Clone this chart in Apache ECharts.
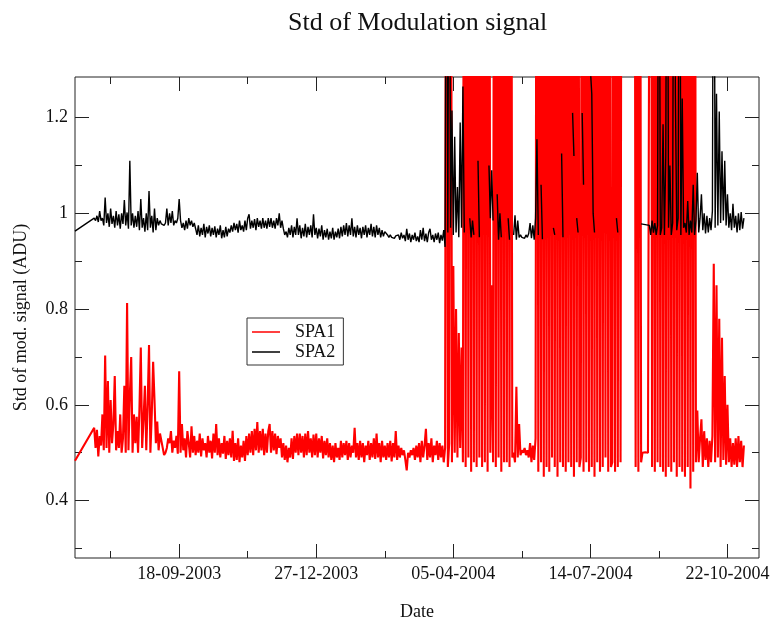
<!DOCTYPE html>
<html>
<head>
<meta charset="utf-8">
<title>Std of Modulation signal</title>
<script src="https://cdn.jsdelivr.net/npm/echarts@6/dist/echarts.min.js"></script>
<style>
  html, body { margin: 0; padding: 0; background: #fff; }
  #chart { width: 771px; height: 619px; }
</style>
</head>
<body>
<div id="chart"></div>
<script>
// x values are days counted from 18-09-2003
const LEAD_DAY = -76;     // first sample, joined by a straight line to the daily data
const START_DAY = -62;    // day of the first entry in the daily arrays

const xMajor = [0, 100, 200, 300, 400];
const xMinor = [-50, 50, 150, 250, 350];
const xLabels = ['18-09-2003', '27-12-2003', '05-04-2004', '14-07-2004', '22-10-2004'];
const yMajor = [0.4, 0.6, 0.8, 1.0, 1.2];
const yMinor = [0.3, 0.5, 0.7, 0.9, 1.1];

const spa1Lead = 0.483;
const spa2Lead = 0.963;

// SPA1, one value per day from day -62 to day 412 (null = no data, 2.6 = off the top)
const spa1 = [
  0.552, 0.51, 0.548, 0.492, 0.535, 0.515, 0.58, 0.505, 0.703, 0.51,   // -62
  0.65, 0.50, 0.61, 0.52, 0.56, 0.66, 0.505, 0.545, 0.51, 0.58,        // -52
  0.50, 0.53, 0.64, 0.50, 0.813, 0.505, 0.62, 0.70, 0.50, 0.58,        // -42
  0.52, 0.575, 0.50, 0.59, 0.72, 0.51, 0.57, 0.64, 0.505, 0.60,        // -32
  0.725, 0.50, 0.58, 0.69, 0.61, 0.52, 0.565, 0.505, 0.54, 0.525,      // -22
  0.51, 0.495, 0.50, 0.51, 0.53, 0.52, 0.545, 0.50, 0.525, 0.51,       // -12
  0.535, 0.498, 0.67, 0.50, 0.56, 0.505, 0.53, 0.49, 0.545, 0.52,      // -2
  0.49, 0.555, 0.50, 0.535, 0.495, 0.525, 0.50, 0.54, 0.492, 0.53,     // 8
  0.505, 0.52, 0.49, 0.535, 0.50, 0.525, 0.488, 0.54, 0.50, 0.56,      // 18
  0.495, 0.53, 0.49, 0.52, 0.498, 0.535, 0.487, 0.525, 0.495, 0.53,    // 28
  0.49, 0.546, 0.483, 0.52, 0.485, 0.53, 0.48, 0.515, 0.49, 0.525,     // 38
  0.483, 0.535, 0.495, 0.54, 0.50, 0.545, 0.495, 0.55, 0.505, 0.564,   // 48
  0.50, 0.545, 0.505, 0.55, 0.495, 0.54, 0.50, 0.545, 0.56, 0.50,      // 58
  0.545, 0.505, 0.54, 0.497, 0.535, 0.51, 0.53, 0.49, 0.52, 0.485,     // 68
  0.515, 0.48, 0.51, 0.49, 0.53, 0.487, 0.535, 0.50, 0.54, 0.495,      // 78
  0.54, 0.50, 0.535, 0.49, 0.54, 0.495, 0.545, 0.50, 0.53, 0.49,       // 88
  0.538, 0.495, 0.54, 0.49, 0.53, 0.50, 0.535, 0.488, 0.525, 0.495,    // 98
  0.53, 0.49, 0.52, 0.485, 0.515, 0.48, 0.52, 0.49, 0.51, 0.485,       // 108
  0.525, 0.49, 0.52, 0.495, 0.525, 0.485, 0.52, 0.49, 0.515, 0.50,     // 118
  0.552, 0.49, 0.52, 0.485, 0.525, 0.49, 0.52, 0.48, 0.515, 0.495,     // 128
  0.525, 0.485, 0.52, 0.49, 0.53, 0.487, 0.54, 0.49, 0.52, 0.48,       // 138
  0.525, 0.49, 0.515, 0.485, 0.52, 0.49, 0.525, 0.482, 0.52, 0.49,     // 148
  0.545, 0.485, 0.515, 0.49, 0.51, 0.495, 0.505, 0.485, 0.463, 0.50,   // 158
  0.49, 0.505, 0.495, 0.51, 0.485, 0.515, 0.49, 0.52, 0.48, 0.525,     // 168
  0.49, 0.515, 0.55, 0.485, 0.52, 0.49, 0.53, 0.48, 0.515, 0.495,      // 178
  0.525, 0.485, 0.52, 0.49, 0.515, 0.48, 0.51, 2.6, 0.47, 0.52,        // 188
  2.6, 0.48, 0.89, 0.50, 0.80, 0.49, 0.75, 0.51, 0.72, 0.48,           // 198
  2.6, 0.47, 2.6, 0.49, 2.6, 0.46, 2.6, 0.48, 2.6, 0.47,               // 208
  2.6, 0.49, 2.6, 0.47, 2.6, 0.48, 2.6, 0.46, 2.6, 0.50,               // 218
  0.85, 0.48, 2.6, 0.47, 2.6, 0.49, 2.6, 0.46, 2.6, 0.48,              // 228
  2.6, 0.48, 2.6, 0.47, 2.6, 0.49, 0.50, 0.48, 0.638, 0.49,            // 238
  0.56, 0.495, 0.505, 0.50, 0.51, 0.495, 0.505, 0.49, 0.52, 0.48,      // 248
  0.515, 0.485, 0.53, 2.6, 0.46, 2.6, 0.48, 2.6, 0.45, 2.6,            // 258
  0.47, 2.6, 0.46, 2.6, 0.49, 2.6, 0.47, 2.6, 0.45, 2.6,               // 268
  0.48, 2.6, 0.47, 2.6, 0.46, 2.6, 0.48, 2.6, 0.47, 2.6,               // 278
  0.45, 2.6, 0.48, 2.6, 0.47, 0.49, 2.6, 0.46, 2.6, 0.48,              // 288
  2.6, 0.46, 2.6, 0.47, 2.6, 0.45, 2.6, 0.48, 2.6, 0.46,               // 298
  2.6, 0.47, 2.6, 0.49, 2.6, 0.46, 2.6, 0.47, 0.48, 2.6,               // 308
  0.46, 2.6, 0.47, 2.6, 0.48, 2.6, null, null, null, null,             // 318
  null, null, null, null, 2.6, 0.47, 2.6, 0.46, 2.6, 0.48,             // 328
  0.50, 0.50, 0.501, 0.50, 0.50, 0.50, 2.6, 0.47, 2.6, 0.46,           // 338
  2.6, 0.48, 2.6, 0.47, 2.6, 0.46, 2.6, 0.45, 2.6, 0.47,               // 348
  2.6, 0.46, 2.6, 0.48, 2.6, 0.45, 2.6, 0.47, 2.6, 0.46,               // 358
  2.6, 0.45, 2.6, 0.47, 2.6, 0.425, 2.6, 0.46, 2.6, 0.48,              // 368
  0.588, 0.48, 0.53, 0.57, 0.47, 0.545, 0.485, 0.53, 0.47, 0.525,      // 378
  0.48, 0.535, 0.895, 0.48, 0.85, 0.49, 0.78, 0.47, 0.74, 0.485,       // 388
  0.66, 0.475, 0.60, 0.48, 0.53, 0.47, 0.52, 0.475, 0.53, 0.47,        // 398
  0.535, 0.48, 0.525, 0.47, 0.515                                      // 408
];

// SPA2, one value per day from day -62 to day 412 (null = no data, 2.0 = off the top)
const spa2 = [
  0.99, 0.985, 0.995, 0.982, 1.005, 0.985, 0.99, 0.975, 1.033, 0.98,   // -62
  1.0, 0.972, 1.01, 0.978, 0.995, 0.97, 1.005, 0.975, 0.998, 0.968,    // -52
  1.0, 0.978, 1.028, 0.975, 1.002, 0.968, 1.11, 0.975, 1.0, 0.97,      // -42
  0.995, 0.972, 1.005, 0.965, 1.03, 0.97, 0.99, 0.962, 1.0, 0.965,     // -32
  1.047, 0.97, 0.995, 0.96, 1.01, 0.965, 0.99, 0.975, 0.985, 0.978,    // -22
  0.976, 0.975, 0.98, 1.01, 0.975, 1.0, 0.98, 1.005, 0.975, 0.985,     // -12
  0.98, 0.99, 1.03, 0.985, 0.97, 0.98, 0.965, 0.985, 0.968, 0.99,      // -2
  0.975, 0.985, 0.972, 0.98, 0.968, 0.955, 0.975, 0.952, 0.97, 0.955,  // 8
  0.978, 0.95, 0.972, 0.958, 0.975, 0.952, 0.97, 0.955, 0.973, 0.95,   // 18
  0.968, 0.955, 0.975, 0.948, 0.965, 0.95, 0.972, 0.952, 0.968, 0.96,  // 28
  0.975, 0.962, 0.98, 0.965, 0.978, 0.96, 0.985, 0.965, 0.975, 0.962,  // 38
  0.985, 0.965, 0.99, 0.998, 0.968, 0.985, 0.97, 0.988, 0.965, 0.99,   // 48
  0.972, 0.985, 0.968, 0.99, 0.97, 0.985, 0.968, 0.99, 0.972, 0.99,    // 58
  0.97, 0.985, 0.968, 0.99, 0.975, 1.0, 0.97, 0.985, 0.968, 0.955,     // 68
  0.962, 0.95, 0.97, 0.955, 0.975, 0.95, 0.972, 0.955, 0.99, 0.955,    // 78
  0.975, 0.948, 0.97, 0.952, 0.978, 0.95, 0.972, 0.955, 0.975, 0.95,   // 88
  0.998, 0.955, 0.97, 0.948, 0.968, 0.952, 0.975, 0.945, 0.965, 0.95,  // 98
  0.968, 0.945, 0.962, 0.948, 0.97, 0.945, 0.962, 0.95, 0.968, 0.948,  // 108
  0.972, 0.952, 0.975, 0.955, 0.98, 0.952, 0.975, 0.955, 0.99, 0.952,  // 118
  0.972, 0.95, 0.975, 0.955, 0.97, 0.948, 0.972, 0.955, 0.975, 0.95,   // 128
  0.97, 0.955, 0.978, 0.952, 0.972, 0.95, 0.975, 0.955, 0.97, 0.95,    // 138
  0.965, 0.952, 0.962, 0.958, 0.955, 0.95, 0.955, 0.95, 0.952, 0.948,  // 148
  0.953, 0.95, 0.955, 0.945, 0.96, 0.948, 0.955, 0.942, 0.968, 0.945,  // 158
  0.958, 0.94, 0.955, 0.945, 0.96, 0.942, 0.952, 0.94, 0.965, 0.945,   // 168
  0.97, 0.942, 0.958, 0.94, 0.96, 0.968, 0.945, 0.955, 0.94, 0.958,    // 178
  0.945, 0.96, 0.938, 0.955, 0.943, 0.965, 0.93, 2.0, 0.96, 2.0,       // 188
  0.97, 1.215, 0.955, 1.16, 0.96, 1.055, 0.95, 1.19, 0.97, 1.265,      // 198
  0.96, null, null, null, 0.99, 0.95, 0.985, 0.955, null, null,        // 208
  1.11, 0.95, null, null, null, null, null, null, 1.10, 0.99,          // 218
  1.09, 0.985, null, null, 1.04, 0.945, 1.0, 0.95, null, null,         // 228
  null, null, 0.99, 0.945, null, null, 0.955, 0.996, 0.945, 0.985,     // 238
  0.95, 0.955, 0.95, 0.952, 0.948, 0.955, 0.95, 0.958, 0.98, 0.948,    // 248
  0.975, 0.945, 0.99, 1.155, 0.955, null, 1.06, 0.946, null, null,     // 258
  null, null, null, null, null, 0.97, 0.955, null, null, null,         // 268
  null, 1.125, 0.95, null, null, null, null, null, null, 1.21,         // 278
  1.12, null, 0.99, 0.96, null, null, 1.21, 1.06, null, null,          // 288
  null, null, 1.3, 1.25, 1.0, 0.96, null, null, null, null,            // 298
  null, null, null, null, null, null, null, null, null, null,          // 308
  null, 0.99, 0.96, null, null, null, null, null, null, null,          // 318
  null, null, null, null, null, null, null, null, null, 0.978,         // 328
  0.977, 0.977, 0.976, 0.976, 0.975, 0.975, 0.955, 0.985, 0.96, 0.98,  // 338
  0.955, 0.975, 2.0, 0.955, 0.97, 1.186, 0.955, 1.12, 2.0, 0.97,       // 348
  1.1, 0.955, 0.98, 2.0, 1.25, 0.965, 0.99, 2.0, 0.955, 1.24,          // 358
  0.97, 0.98, 0.96, 1.026, 0.955, 0.985, 0.96, 1.06, 0.955, 0.985,     // 368
  1.085, 0.96, 0.99, 1.04, 0.965, 1.0, 0.958, 0.995, 0.96, 0.99,       // 378
  0.965, 1.005, 2.0, 0.97, 1.25, 0.975, 1.213, 0.98, 1.13, 0.985,      // 388
  1.11, 0.975, 1.04, 0.97, 1.0, 0.965, 1.02, 0.97, 0.995, 0.96,        // 398
  1.0, 0.965, 1.003, 0.968, 0.99                                       // 408
];

const FONT = 'Liberation Serif';

function buildSeries(lead, values) {
  const pts = [[LEAD_DAY, lead]];
  values.forEach((v, i) => {
    pts.push([START_DAY + i, v]);
  });
  return pts;
}

function tickAxis(type, position, ticks, len, withLabels) {
  const axis = {
    type: 'value',
    position: position,
    axisLine: { show: false, onZero: false },
    splitLine: { show: false },
    axisTick: {
      show: true,
      inside: true,
      length: len,
      customValues: ticks,
      lineStyle: { color: '#222', width: 1 }
    },
    axisLabel: { show: false }
  };
  if (type === 'x') {
    axis.min = -76;
    axis.max = 423;
  } else {
    axis.min = 0.28;
    axis.max = 1.285;
  }
  if (withLabels) {
    axis.axisLabel = {
      show: true,
      customValues: ticks,
      fontFamily: FONT,
      fontSize: 18,
      color: '#111',
      margin: 7,
      formatter: type === 'x'
        ? (v) => xLabels[xMajor.indexOf(Math.round(v))] || ''
        : (v) => String(+v.toFixed(1))
    };
  }
  return axis;
}

const chart = echarts.init(document.getElementById('chart'), null, { renderer: 'canvas' });

const xBottom = tickAxis('x', 'bottom', xMajor, 14, true);
xBottom.name = 'Date';
xBottom.nameLocation = 'middle';
xBottom.nameGap = 45;
xBottom.nameTextStyle = { fontFamily: FONT, fontSize: 18, color: '#111' };

const yLeft = tickAxis('y', 'left', yMajor, 14, true);
yLeft.name = 'Std of mod. signal (ADU)';
yLeft.nameLocation = 'middle';
yLeft.nameGap = 45;
yLeft.nameTextStyle = { fontFamily: FONT, fontSize: 18, color: '#111' };

chart.setOption({
  animation: false,
  backgroundColor: '#fff',
  title: {
    text: 'Std of Modulation signal',
    left: 283,
    top: 5,
    textStyle: { fontFamily: FONT, fontSize: 26, fontWeight: 'normal', color: '#111' }
  },
  legend: {
    data: ['SPA1', 'SPA2'],
    orient: 'vertical',
    left: 247,
    top: 318,
    padding: [5, 8, 4, 5],
    icon: 'rect',
    itemWidth: 28,
    itemHeight: 1.5,
    itemGap: 2,
    borderColor: '#333',
    borderWidth: 1,
    backgroundColor: '#fff',
    textStyle: { fontFamily: FONT, fontSize: 18, color: '#111', padding: [0, 0, 0, 10] }
  },
  grid: {
    left: 75,
    right: 12,
    top: 77,
    bottom: 61,
    outerBoundsMode: 'none',
    containLabel: false,
    show: true,
    borderColor: '#222',
    borderWidth: 1,
    backgroundColor: 'transparent'
  },
  xAxis: [
    xBottom,
    tickAxis('x', 'top', xMajor, 14, false),
    tickAxis('x', 'bottom', xMinor, 7, false),
    tickAxis('x', 'top', xMinor, 7, false)
  ],
  yAxis: [
    yLeft,
    tickAxis('y', 'right', yMajor, 14, false),
    tickAxis('y', 'left', yMinor, 7, false),
    tickAxis('y', 'right', yMinor, 7, false)
  ],
  series: [
    {
      name: 'SPA1',
      type: 'line',
      xAxisIndex: 0,
      yAxisIndex: 0,
      data: buildSeries(spa1Lead, spa1),
      symbol: 'none',
      showSymbol: false,
      connectNulls: false,
      z: 2,
      color: '#ff0000',
      lineStyle: { color: '#ff0000', width: 2.1 }
    },
    {
      name: 'SPA2',
      type: 'line',
      xAxisIndex: 0,
      yAxisIndex: 0,
      data: buildSeries(spa2Lead, spa2),
      symbol: 'none',
      showSymbol: false,
      connectNulls: false,
      z: 3,
      color: '#000000',
      lineStyle: { color: '#000000', width: 1.4 }
    }
  ]
});
</script>
</body>
</html>
